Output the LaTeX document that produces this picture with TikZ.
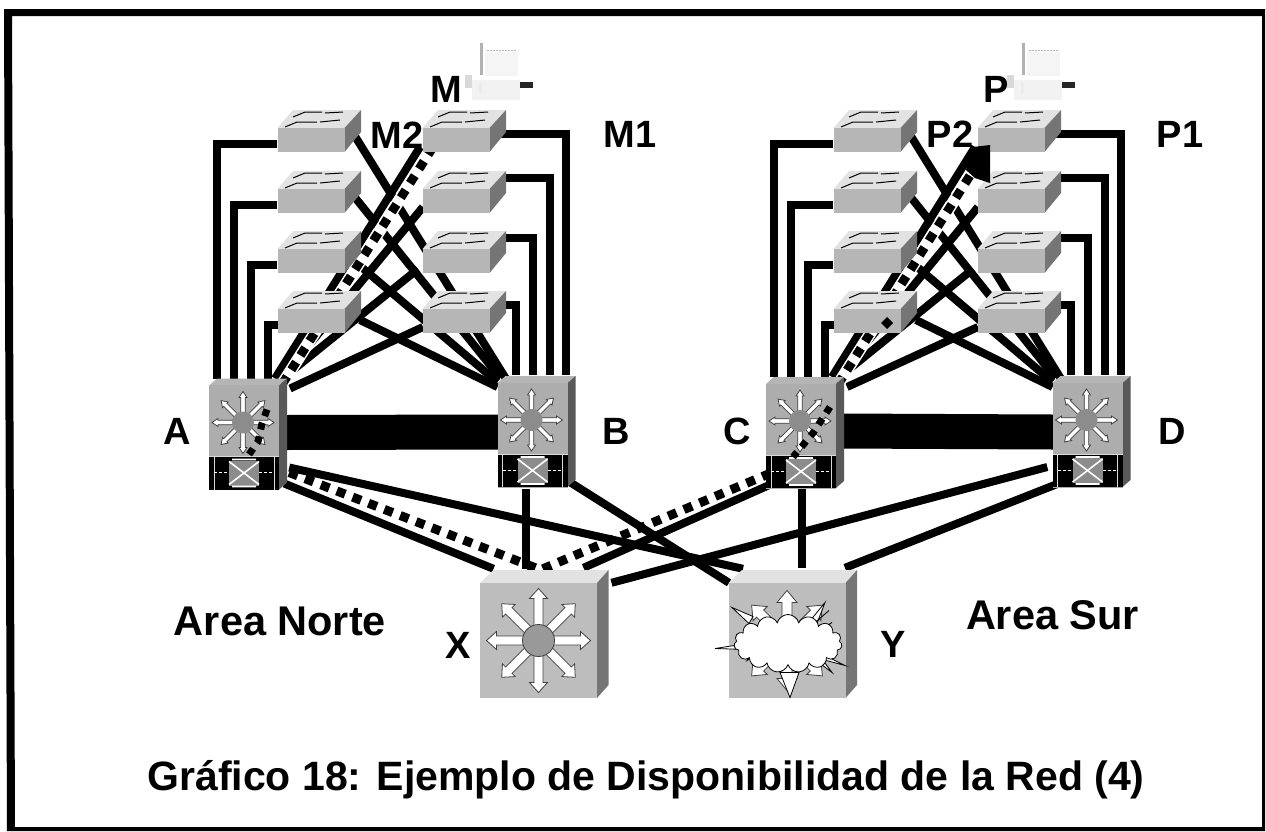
\documentclass[tikz,border=0pt]{standalone}
\usepackage{fontspec}
\setmainfont{Liberation Sans}
\usetikzlibrary{calc,backgrounds,shapes.symbols}
\definecolor{swfrontc}{HTML}{B6B6B6}
\definecolor{swtopc}{HTML}{E2E2E2}
\definecolor{swsidec}{HTML}{757575}
\definecolor{chassisc}{HTML}{ADADAD}
\definecolor{routerc}{HTML}{BDBDBD}
\tikzset{
 link/.style={draw=black,line width=8pt,line join=miter},
 dashcase/.style={draw=white,line width=12pt},
 dashlink/.style={draw=black,line width=9pt,dash pattern=on 9pt off 8pt},
 swfront/.style={draw=none,fill=swfrontc,minimum width=67pt,minimum height=24pt,inner sep=0pt},
 chfront/.style={draw=none,fill=chassisc,minimum width=70pt,minimum height=105pt,inner sep=0pt},
 rtfront/.style={draw=none,fill=routerc,minimum width=117pt,minimum height=115pt,inner sep=0pt},
 lbl/.style={font=\bfseries\fontsize{38}{38}\selectfont,inner sep=0pt,text=black},
 area/.style={font=\bfseries\fontsize{41.5}{41.5}\selectfont,inner sep=0pt,text=black,anchor=base},
 arrowshape/.style={fill=white,draw=black!75,line width=0.8pt,line join=miter}
}
\newcommand\SwitchBox[3]{%
 \begin{scope}[shift={(#2,#3)}]
 \fill[swtopc] (-33.5,-12) -- (-18,-30) -- (50,-30) -- (33.5,-12) -- cycle;
 \fill[swsidec] (33.5,-12) -- (50,-30) -- (50,-8) -- (33.5,12) -- cycle;
 \node[swfront] (#1) at (0,0) {};
 \draw[black,line width=1pt] (-18,-23) -- (-6,-28) -- (11,-28) (14,-27) -- (32,-28) (-26,-13) -- (-14,-18) -- (6,-18) (9,-18) -- (29,-20);
 \end{scope}}
\newcommand\StarArrows[5]{% r0 r1 r2 halfwidth headhalf
 \foreach \a in {0,45,...,315}{
  \begin{scope}[rotate=\a]
  \path[arrowshape] (#1,-#4) -- (#2,-#4) -- (#2,-#5) -- (#3,0) -- (#2,#5) -- (#2,#4) -- (#1,#4) -- cycle;
  \end{scope}}
 }
\newcommand\ChassisBox[3]{%
 \begin{scope}[shift={(#2,#3)}]
 \fill[swtopc!80!black] (-35,-52) -- (-27,-59) -- (43,-59) -- (35,-52) -- cycle;
 \fill[black!65] (35,-52) -- (43,-59) -- (43,45) -- (35,52) -- cycle;
 \node[chfront] (#1) at (0,0) {};
 \begin{scope}[shift={(-1,-15)}]
 \StarArrows{9}{25}{31}{2.2}{4}
 \fill[black!45] (0,0) circle (11);
 \end{scope}
 \fill[black] (-35,19) rectangle (35,52);
 \fill[black!45] (-15,23) rectangle (15,48);
 \draw[white!85!black,line width=1pt] (-35,19) -- (35,19) (-30,19) -- (-30,52) (30,19) -- (30,52);
 \draw[white,line width=1.6pt] (-15,24) -- (15,47) (-15,47) -- (15,24) (-12,22) -- (12,22) (-12,49) -- (12,49);
 \draw[white,line width=1pt,dash pattern=on 3pt off 2pt] (-30,35) -- (-15,35) (15,35) -- (30,35);
 \end{scope}}
\newcommand\RouterBody[3]{%
 \begin{scope}[shift={(#2,#3)}]
 \fill[swtopc] (-58.5,-57.5) -- (-45,-70.5) -- (70,-70.5) -- (58.5,-57.5) -- cycle;
 \fill[swsidec] (58.5,-57.5) -- (70,-70.5) -- (70,44.5) -- (58.5,57.5) -- cycle;
 \node[rtfront] (#1) at (0,0) {};
 \end{scope}}
\newcommand\Wiring[1]{%
 \draw[link] ($(#1L1.center)+(-34,4)$) -| ($(#1A.center)+(-27,-59)$);
 \draw[link] ($(#1L2.center)+(-34,4)$) -| ($(#1A.center)+(-10,-59)$);
 \draw[link] ($(#1L3.center)+(-34,4)$) -| ($(#1A.center)+(7,-59)$);
 \draw[link] ($(#1L4.center)+(-33,4)$) -| ($(#1A.center)+(24,-59)$);
 \draw[link] ($(#1R1.center)+(33,-6)$) -| ($(#1B.center)+(33,-60)$);
 \draw[link] ($(#1R2.center)+(49,-23)$) -| ($(#1B.center)+(17,-60)$);
 \draw[link] ($(#1R3.center)+(49,-23)$) -| ($(#1B.center)+(0,-60)$);
 \draw[link] ($(#1R4.center)+(49,-16)$) -| ($(#1B.center)+(-17,-60)$);
 \draw[link] ($(#1A.center)+(31,-59)$) -- ($(#1R1.center)+(-36,7)$);
 \draw[link] ($(#1A.center)+(34,-55)$) -- ($(#1R2.center)+(-33,6)$);
 \draw[link] ($(#1A.center)+(36,-57)$) -- ($(#1R3.center)+(-38,8)$);
 \draw[link] ($(#1A.center)+(46,-49)$) -- ($(#1R4.center)+(-33,6)$);
 \draw[link] ($(#1L1.center)+(42,-7)$) -- ($(#1B.center)+(-27,-57)$);
 \draw[link] ($(#1L2.center)+(42,-6)$) -- ($(#1B.center)+(-32,-57)$);
 \draw[link] ($(#1L3.center)+(42,-1)$) -- ($(#1B.center)+(-35,-53)$);
 \draw[link] ($(#1L4.center)+(49,-1)$) -- ($(#1B.center)+(-35,-48)$);
 \path[dashcase] ($(#1A.center)+(36,-50)$) -- ($(#1R1.center)+(-23,7)$);
 \path[dashlink] ($(#1R1.center)+(-23,7)$) -- ($(#1A.center)+(36,-50)$);
 \draw[draw=black,line width=35pt] ($(#1A.center)+(40,-5)$) -- ($(#1B.center)+(-34,-3)$);
}
\newcommand\GhostPC[1]{%
 \begin{scope}[shift={(#1,0)}]
 \fill[black!4] (5,52) rectangle (38,76);
 \fill[black!30] (0,43) rectangle (2.5,75);
 \draw[black!30,line width=1pt,dash pattern=on 1.5pt off 1.5pt] (7,50) -- (36,50);
 \fill[black!15] (-15,75) rectangle (-8,88);
 \fill[black!5] (-8,80) rectangle (40,100);
 \fill[black!8] (-1,82) rectangle (2,94);
 \fill[black!85] (40,82) rectangle (53,88);
 \end{scope}}
\begin{document}
\begin{tikzpicture}[x=1pt,y=-1pt]
\useasboundingbox (0,0) rectangle (1266,831);
\GhostPC{480}
\GhostPC{1022}
% devices
\foreach \s/\lx/\rx in {N/311/456,S/867/1011}{
 \foreach \r/\cy in {1/140,2/201,3/261,4/321}{
  \SwitchBox{\s L\r}{\lx}{\cy}
  \SwitchBox{\s R\r}{\rx}{\cy}
 }}
\ChassisBox{NA}{244}{437.5}
\ChassisBox{NB}{532.5}{435}
\ChassisBox{SA}{801}{436}
\ChassisBox{SB}{1087.5}{435}
\RouterBody{X}{538.5}{640.5}
\RouterBody{Y}{787}{640.5}
% X router emblem
\begin{scope}[shift={(X.center)}]
 \StarArrows{14}{42}{52}{4.5}{9}
 \fill[black!40] (0,0) circle (16);
 \draw[black!75,line width=0.8pt] (0,0) circle (16);
\end{scope}
% Y router emblem
\begin{scope}[shift={(Y.center)}]
 \StarArrows{14}{38}{50}{5}{10}
 \foreach \x/\y/\u/\v/\p/\q in {-72/8/-40/3/-40/9,-55/-33/-34/-24/-38/-17,38/-38/20/-16/28/-12,37/10/16/0/20/6,45/32/30/12/24/16,45/-18/28/-8/25/-4,42/-30/26/-16/22/-13,3/57/-7/32/12/32,-40/20/-30/5/-24/10,58/25/32/12/32/18}
  \path[fill=white,draw=black,line width=0.8pt] (\x,\y) -- (\u,\v) -- (\p,\q) -- cycle;
 \node[cloud,cloud puffs=15,aspect=2,draw=black,line width=0.8pt,fill=white,minimum width=108pt,minimum height=58pt,inner sep=0pt] (Ycloud) at (1,3) {};
\end{scope}
% connectors
\begin{scope}[on background layer]
 \fill[white] (0,0) rectangle (1266,831);
 \Wiring{N}
 \Wiring{S}
 \draw[link] ($(NA.east)+(10,30)$) -- ($(Y.north)+(-44,-14)$);
 \draw[link] ($(NA.east)+(5,46)$) -- ($(X.north)+(-45,-14)$);
 \draw[link] ($(NB.south)+(-7,1)$) -- ($(X.north)+(-13,-14)$);
 \draw[link] ($(NB.east)+(2,47)$) -- ($(Y.north)+(-58,0)$);
 \draw[link] ($(SA.south)+(-31,-4)$) -- ($(X.north)+(45,-15)$);
 \draw[link] ($(SA.south)+(1,0)$) -- ($(Y.north)+(15,-15)$);
 \draw[link] ($(SB.west)+(-5,32)$) -- ($(X.north)+(73,0)$);
 \draw[link] ($(SB.south)+(-27,-5)$) -- ($(Y.north)+(58,-15)$);
 \path[dashlink] ($(NA.east)+(10,35)$) -- ($(X.north)+(2,-13)$) -- ($(SA.center)+(-23,34)$);
\end{scope}
% dashed route across the chassis
\path[dashlink,line width=7pt,dash pattern=on 7pt off 7pt] ($(NA.center)+(23,-28)$) -- ($(NA.center)+(18,-14)$) -- ($(NA.center)+(14,4)$) -- ($(NA.center)+(5,17)$);
\path[dashlink,line width=7pt,dash pattern=on 7pt off 7pt] ($(SA.center)+(29,-29)$) -- ($(SA.center)+(12,-3)$) -- ($(SA.center)+(-8,21)$);
\fill[black] ($(SR1.center)+(-38,7)$) -- ($(SR1.center)+(-21,5)$) -- ($(SR1.center)+(-21,43)$) -- ($(SR1.center)+(-36,38)$) -- ($(SR1.center)+(-45,30)$) -- cycle;
\fill[black] ($(SL4.center)+(20,-4)$) -- ($(SL4.center)+(26,2)$) -- ($(SL4.center)+(20,8)$) -- ($(SL4.center)+(14,2)$) -- cycle;
% frame
\fill[black,even odd rule] (4,9) -- (1265,9) -- (1265,831) -- (7,831) -- cycle
  (12,16) -- (1262,16) -- (1262,827) -- (15,827) -- cycle;
% labels
\node[lbl] (tM) at (446,89) {M};
\node[lbl] (tM2) at (397,135) {M2};
\node[lbl] (tM1) at (630,134) {M1};
\node[lbl] (tP) at (996,89) {P};
\node[lbl] (tP2) at (950,134) {P2};
\node[lbl] (tP1) at (1180,134) {P1};
\node[lbl] (tA) at (177,431) {A};
\node[lbl] (tB) at (616,431) {B};
\node[lbl] (tC) at (737,431) {C};
\node[lbl] (tD) at (1172,431) {D};
\node[lbl] (tX) at (458,645) {X};
\node[lbl] (tY) at (893,644) {Y};
\node[area] (tN) at (280,635) {Area Norte};
\node[area] (tS) at (1052.5,629) {Area Sur};
\node[inner sep=0pt,anchor=base,font=\bfseries\fontsize{41}{41}\selectfont] (title) at (646,790) {Gráfico 18: Ejemplo de Disponibilidad de la Red (4)};
\end{tikzpicture}
\end{document}
